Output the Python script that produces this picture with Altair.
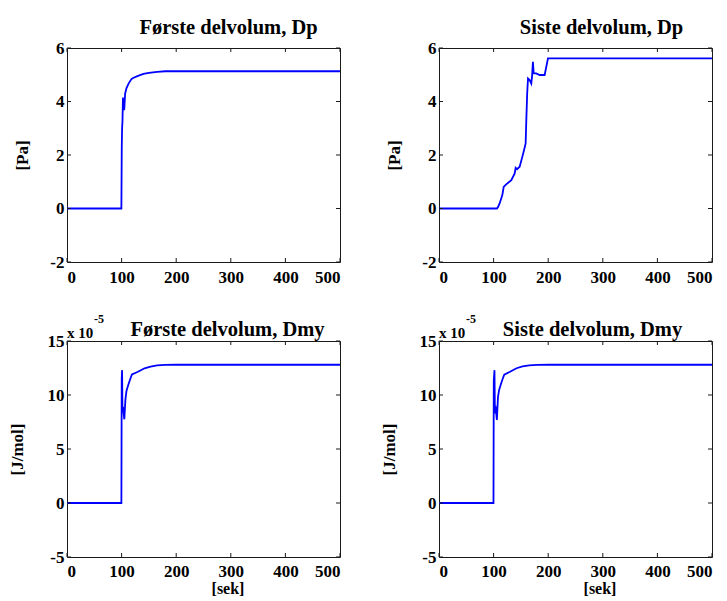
import altair as alt
import pandas as pd

# ---- data ----
x_ticks = [0, 100, 200, 300, 400, 500]
y_ticks_dp = [-2, 0, 2, 4, 6]
y_ticks_dmy = [-5, 0, 5, 10, 15]

# Første delvolum, Dp  [Pa]
f_dp_t = [0, 99.6, 100.3, 100.9, 101.6, 102.5, 103.5, 104.8, 106.5, 109, 113, 118, 121, 130, 140, 150, 165, 180, 200, 300, 500]
f_dp_v = [0, 0, 2.3, 3.0, 3.25, 4.15, 3.75, 3.68, 4.3, 4.5, 4.68, 4.84, 4.88, 4.96, 5.03, 5.07, 5.11, 5.13, 5.13, 5.13, 5.13]

# Siste delvolum, Dp  [Pa]
s_dp_t = [0, 106, 108, 111, 116, 118.5, 123, 132.5, 138.6, 140.4, 143, 147.7, 152.6, 155, 158.7, 160, 161.5, 163, 166, 169, 170.5, 172, 173.4, 178, 184.4, 193.5, 199.6, 300, 500]
s_dp_v = [0, 0, 0.05, 0.19, 0.5, 0.81, 0.9, 1.06, 1.31, 1.52, 1.47, 1.56, 1.93, 2.12, 2.43, 3.36, 4.3, 4.86, 4.8, 4.67, 4.95, 5.48, 5.05, 5.05, 4.99, 4.99, 5.61, 5.61, 5.61]

# Første delvolum, Dmy  [J/mol] (x 10^-5)
f_dmy_t = [0, 99.6, 100.2, 100.9, 101.6, 102.5, 103.3, 105, 107, 109, 112, 116, 119, 130, 142, 153, 165, 180, 200, 500]
f_dmy_v = [0, 0, 11.5, 12.3, 8.4, 8.9, 8.5, 7.75, 9.6, 10.4, 10.9, 11.5, 11.9, 12.15, 12.47, 12.63, 12.74, 12.79, 12.8, 12.8]

# Siste delvolum, Dmy  [J/mol] (x 10^-5)
s_dmy_t = [0, 99.8, 100.3, 101.6, 102.4, 103.4, 104.2, 106, 108, 110, 113, 117, 119.5, 130, 142, 153, 165, 180, 200, 500]
s_dmy_v = [0, 0, 11.3, 12.3, 8.3, 9.0, 8.6, 7.7, 9.8, 10.45, 10.95, 11.55, 11.88, 12.15, 12.48, 12.65, 12.74, 12.79, 12.8, 12.8]

W = 273
FONT = "Liberation Serif"
AX = "#1a1a1a"
LAB = "'' + datum.value"


def panel(t, v, title, y_dom, y_ticks, ylab, h, bottom, t_offset, dx, ytp, exp=False):
    df = pd.DataFrame({"t": t, "v": v})
    xs = alt.Scale(domain=[0, 500], nice=False, zero=False)
    ys = alt.Scale(domain=y_dom, nice=False, zero=False)
    if bottom:
        xaxis = alt.Axis(values=x_ticks, labelExpr=LAB, labelPadding=6, title="[sek]",
                         titleFontSize=16, titleX=W / 2 + 24, titleY=36, titleBaseline="alphabetic")
    else:
        xaxis = alt.Axis(values=x_ticks, labelExpr=LAB, labelPadding=7, title=None)
    yaxis = alt.Axis(values=y_ticks, labelExpr=LAB, labelPadding=3, titlePadding=ytp, title=ylab)
    line = alt.Chart(df).mark_line(color="#0000ff", strokeWidth=1.8).encode(
        x=alt.X("t:Q", scale=xs, axis=xaxis),
        y=alt.Y("v:Q", scale=ys, axis=yaxis),
    )
    xt = pd.DataFrame({"t": x_ticks})
    yt = pd.DataFrame({"v": y_ticks})
    tk = dict(color=AX, strokeWidth=1)
    top_t = alt.Chart(xt).mark_rule(**tk).encode(
        x=alt.X("t:Q", scale=xs), y=alt.value(0), y2=alt.value(4))
    bot_t = alt.Chart(xt).mark_rule(**tk).encode(
        x=alt.X("t:Q", scale=xs), y=alt.value(h), y2=alt.value(h - 4))
    left_t = alt.Chart(yt).mark_rule(**tk).encode(
        y=alt.Y("v:Q", scale=ys), x=alt.value(0), x2=alt.value(4))
    right_t = alt.Chart(yt).mark_rule(**tk).encode(
        y=alt.Y("v:Q", scale=ys), x=alt.value(W), x2=alt.value(W - 4))
    layers = [line, top_t, bot_t, left_t, right_t]
    if exp:
        base_txt = alt.Chart(pd.DataFrame({"s": ["x 10"]})).mark_text(
            font=FONT, fontWeight="bold", fontSize=15, align="left", baseline="alphabetic", color="black"
        ).encode(text="s:N", x=alt.value(0), y=alt.value(-3))
        exp_txt = alt.Chart(pd.DataFrame({"s": ["-5"]})).mark_text(
            font=FONT, fontWeight="bold", fontSize=12, align="left", baseline="alphabetic", color="black"
        ).encode(text="s:N", x=alt.value(27), y=alt.value(-18))
        layers += [base_txt, exp_txt]
    return alt.layer(*layers).properties(
        width=W, height=h,
        title=alt.TitleParams(title, offset=t_offset, dx=dx, frame="group", baseline="alphabetic",
                              anchor="middle", font=FONT, fontSize=20.5, fontWeight="bold", color="black"),
    )


p1 = panel(f_dp_t, f_dp_v, "Første delvolum, Dp", [-2, 6], y_ticks_dp, "[Pa]", 214, False, -15, 25, 18)
p2 = panel(s_dp_t, s_dp_v, "Siste delvolum, Dp", [-2, 6], y_ticks_dp, "[Pa]", 214, False, -15, 26, 18)
p3 = panel(f_dmy_t, f_dmy_v, "Første delvolum, Dmy", [-5, 15], y_ticks_dmy, "[J/mol]", 216, True, -43, 24, 21, exp=True)
p4 = panel(s_dmy_t, s_dmy_v, "Siste delvolum, Dmy", [-5, 15], y_ticks_dmy, "[J/mol]", 216, True, -43, 17, 21, exp=True)

chart = alt.concat(p1, p2, p3, p4, columns=2, spacing={"row": 79, "column": 99}, bounds="flush").properties(
    padding={"left": -1, "top": 9, "right": 0, "bottom": 0}, background="white"
).configure_view(stroke=AX, strokeWidth=1).configure_axis(
    domain=False, ticks=False, tickSize=0, grid=False,
    labelFont=FONT, labelFontWeight="bold", labelFontSize=17, labelColor="black",
    titleFont=FONT, titleFontWeight="bold", titleFontSize=17, titleColor="black",
)

chart.save("out.html", embed_options={"renderer": "svg", "actions": False})
